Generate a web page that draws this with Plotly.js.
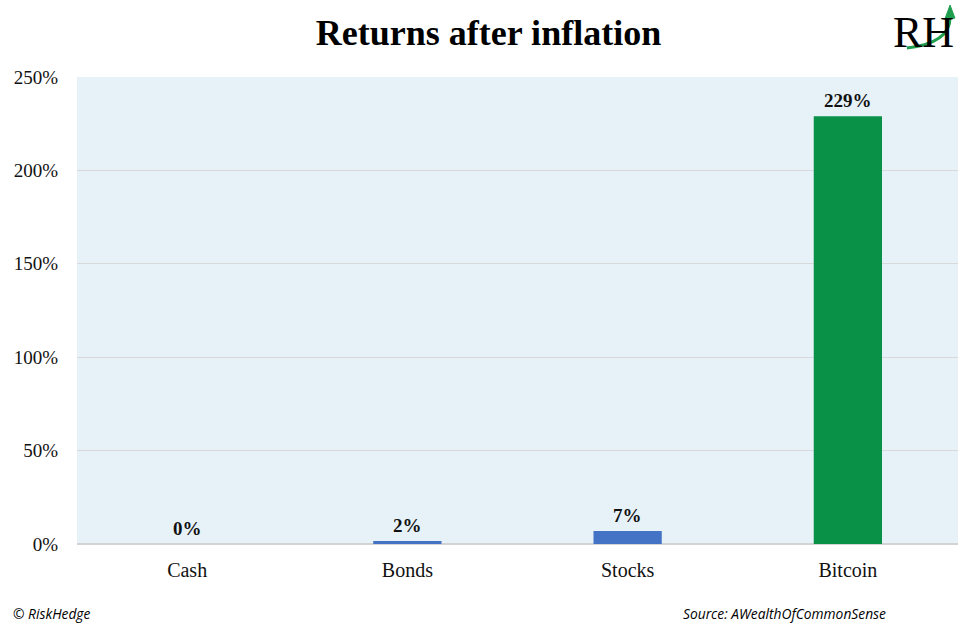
<!DOCTYPE html>
<html>
<head>
<meta charset="utf-8">
<script src="https://cdn.plot.ly/plotly-3.0.1.min.js"></script>
<style>html,body{margin:0;padding:0;background:#fff;}#chart{width:977px;height:639px;}</style>
</head>
<body>
<div id="chart"></div>
<script>
const categories = ["Cash", "Bonds", "Stocks", "Bitcoin"];
const returnsPct = [0, 1.6, 7, 229];
const valueLabels = ["0%", "2%", "7%", "229%"];
const barColors = ["#4472C4", "#4472C4", "#4472C4", "#0A9148"];
const yTickVals = [0, 50, 100, 150, 200, 250];
const yTickText = ["0%", "50%", "100%", "150%", "200%", "250%"];

const serif = "Liberation Serif, Times New Roman, serif";

const trace = {
  type: "bar",
  x: categories,
  y: returnsPct,
  marker: {color: barColors},
  width: 0.31,
  hoverinfo: "none"
};

const labelAnnotations = categories.map((c, i) => ({
  x: c, y: returnsPct[i], xref: "x", yref: "y",
  text: valueLabels[i], showarrow: false, yanchor: "bottom", yshift: 3,
  font: {family: serif, size: 19, color: "#111", weight: "bold"}
}));

const layout = {
  width: 977, height: 639,
  margin: {l: 77, r: 19, t: 77, b: 95},
  paper_bgcolor: "#ffffff",
  plot_bgcolor: "#E7F2F8",
  showlegend: false,
  title: {text: "<b>Returns after inflation</b>", x: 0.5, xanchor: "center", y: 0.95, yanchor: "middle",
    font: {family: serif, size: 36, color: "#000"}},
  xaxis: {type: "category", showgrid: false, showline: false, ticks: "", ticklabelstandoff: 12,
    tickfont: {family: serif, size: 20, color: "#111"}, fixedrange: true},
  yaxis: {range: [0, 250], tickvals: yTickVals, ticktext: yTickText,
    gridcolor: "#D9D9D9", gridwidth: 1, zeroline: true, zerolinecolor: "#D3D3D3", zerolinewidth: 2,
    showline: false, ticks: "", ticklabelstandoff: 18,
    tickfont: {family: serif, size: 19, color: "#111"}, fixedrange: true},
  annotations: labelAnnotations.concat([
    {xref: "paper", yref: "paper", x: -0.075, y: -0.148, xanchor: "left", yanchor: "middle",
     text: "<i>© RiskHedge</i>", showarrow: false,
     font: {family: "Open Sans, sans-serif", size: 13.8, color: "#000"}},
    {xref: "paper", yref: "paper", x: 0.686, y: -0.148, xanchor: "left", yanchor: "middle",
     text: "<i>Source: AWealthOfCommonSense</i>", showarrow: false,
     font: {family: "Open Sans, sans-serif", size: 13.8, color: "#000"}},
    {xref: "paper", yref: "paper", x: 0.961, y: 1.096, xanchor: "center", yanchor: "middle",
     text: "RH", showarrow: false,
     font: {family: serif, size: 44, color: "#000"}}
  ]),
  shapes: [
    {type: "path", xref: "paper", yref: "paper",
     path: "M 0.942 1.062 C 0.974 1.069 0.991 1.09 0.991 1.128",
     line: {color: "#1E9E4E", width: 3}},
    {type: "path", xref: "paper", yref: "paper",
     path: "M 0.9855 1.126 L 0.9965 1.126 L 0.991 1.154 Z",
     fillcolor: "#1E9E4E", line: {color: "#1E9E4E", width: 1}}
  ]
};

Plotly.newPlot("chart", [trace], layout, {displayModeBar: false, staticPlot: true});
</script>
</body>
</html>
